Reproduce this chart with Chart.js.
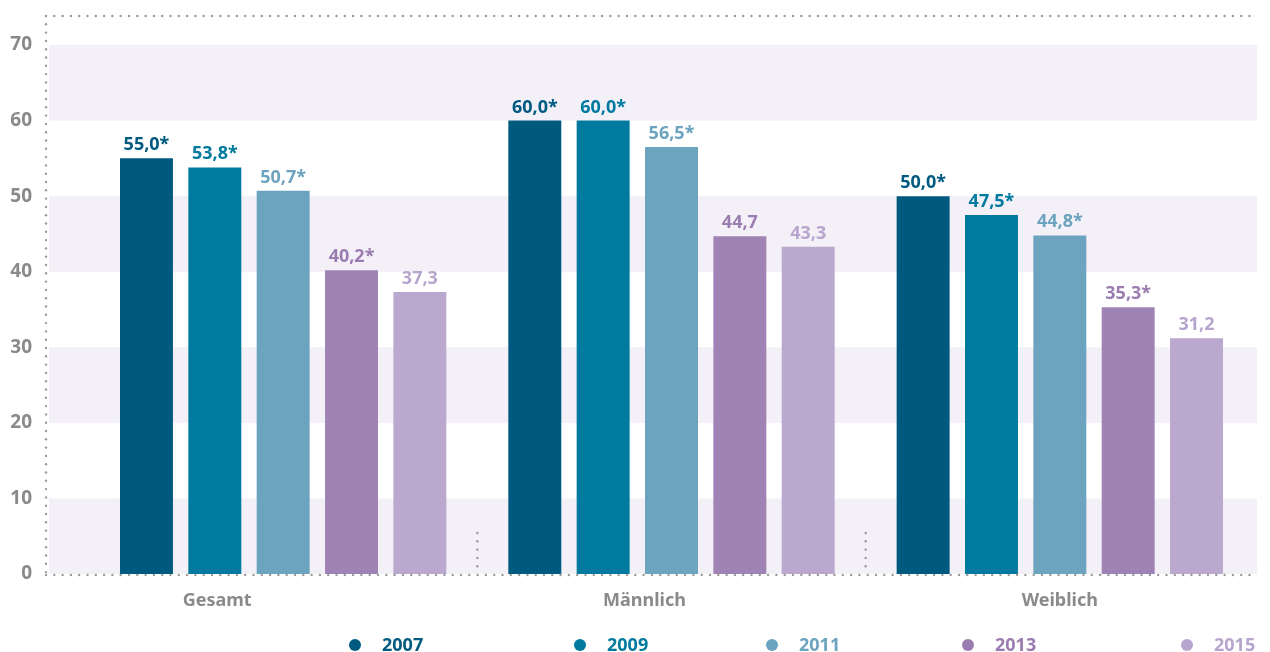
<!DOCTYPE html>
<html>
<head>
<meta charset="utf-8">
<script src="https://cdn.jsdelivr.net/npm/chart.js@4.4.1/dist/chart.umd.min.js"></script>
<style>
html,body{margin:0;padding:0;background:#fff;}
#wrap{width:1270px;height:652px;position:relative;}
</style>
</head>
<body>
<div id="wrap"><canvas id="c" width="1270" height="652"></canvas></div>
<script>
const categories = ['Gesamt', 'Männlich', 'Weiblich'];
const years = ['2007', '2009', '2011', '2013', '2015'];
const values2007 = [55.0, 60.0, 50.0];
const values2009 = [53.8, 60.0, 47.5];
const values2011 = [50.7, 56.5, 44.8];
const values2013 = [40.2, 44.7, 35.3];
const values2015 = [37.3, 43.3, 31.2];
const stars2007 = [true, true, true];
const stars2009 = [true, true, true];
const stars2011 = [true, true, true];
const stars2013 = [true, false, true];
const stars2015 = [false, false, false];
const yTicks = [0, 10, 20, 30, 40, 50, 60, 70];

const barColors = ['#005a80', '#007a9e', '#6ca3be', '#a083b5', '#bba8ce'];
const labelColors = ['#005a80', '#007a9e', '#6ca3be', '#9a7cb0', '#b8a5cd'];
const allValues = [values2007, values2009, values2011, values2013, values2015];
const allStars = [stars2007, stars2009, stars2011, stars2013, stars2015];

const FONT = '"Noto Sans", "Open Sans", sans-serif';
const GRAY = '#8a8a8a';
const AXIS_LEFT = 46;
const CAT_LABEL_SHIFT = [-66, -27, 0];

function dotsH(ctx, x0, x1, y, step) {
  for (let x = x0; x <= x1; x += step) {
    ctx.beginPath(); ctx.arc(x, y, 1.2, 0, Math.PI * 2); ctx.fill();
  }
}
function dotsV(ctx, x, y0, y1, step) {
  for (let y = y0; y <= y1; y += step) {
    ctx.beginPath(); ctx.arc(x, y, 1.2, 0, Math.PI * 2); ctx.fill();
  }
}

const backdrop = {
  id: 'backdrop',
  beforeDatasetsDraw(chart) {
    const ctx = chart.ctx, y = chart.scales.y, x = chart.scales.x;
    const right = chart.chartArea.right + 3;
    ctx.save();
    ctx.fillStyle = '#f3f0f7';
    for (let i = 0; i < yTicks.length - 1; i += 2) {
      const top = y.getPixelForValue(yTicks[i + 1]);
      const bot = y.getPixelForValue(yTicks[i]);
      ctx.fillRect(AXIS_LEFT + 3, top, right - AXIS_LEFT - 3, bot - top);
    }
    ctx.fillStyle = '#9a9a9a';
    const top = 16, bottom = y.getPixelForValue(0) + 1;
    dotsH(ctx, AXIS_LEFT, right - 2, top, 8.3);
    dotsV(ctx, AXIS_LEFT, top, bottom, 8.3);
    for (let i = 0; i < categories.length - 1; i++) {
      const sx = (x.getPixelForValue(i) + x.getPixelForValue(i + 1)) / 2;
      dotsV(ctx, sx, bottom - 42, bottom - 8, 8.3);
    }
    ctx.restore();
  },
  afterDatasetsDraw(chart) {
    const ctx = chart.ctx, y = chart.scales.y, x = chart.scales.x;
    const right = chart.chartArea.right + 3;
    ctx.save();
    ctx.fillStyle = '#9a9a9a';
    dotsH(ctx, AXIS_LEFT, right - 2, y.getPixelForValue(0) + 1, 8.3);
    // category labels
    ctx.font = 'bold 18px ' + FONT;
    ctx.fillStyle = GRAY;
    ctx.textAlign = 'center';
    ctx.textBaseline = 'middle';
    categories.forEach((c, i) => {
      ctx.fillText(c, x.getPixelForValue(i) + CAT_LABEL_SHIFT[i], y.getPixelForValue(0) + 27);
    });
    // value labels
    ctx.textBaseline = 'alphabetic';
    chart.data.datasets.forEach((ds, di) => {
      const meta = chart.getDatasetMeta(di);
      meta.data.forEach((bar, i) => {
        const v = ds.data[i];
        const txt = v.toFixed(1).replace('.', ',') + (allStars[di][i] ? '*' : '');
        ctx.fillStyle = labelColors[di];
        ctx.fillText(txt, bar.x, bar.y - 8);
      });
    });
    // legend
    const legendX = [355, 580, 772, 968, 1187];
    const ly = 645;
    ctx.textAlign = 'left';
    ctx.textBaseline = 'middle';
    chart.data.datasets.forEach((ds, di) => {
      ctx.fillStyle = labelColors[di];
      ctx.beginPath(); ctx.arc(legendX[di], ly, 6, 0, Math.PI * 2); ctx.fill();
      ctx.fillText(ds.label, legendX[di] + 27, ly + 1);
    });
    ctx.restore();
  }
};

new Chart(document.getElementById('c'), {
  type: 'bar',
  data: {
    labels: categories,
    datasets: years.map((yr, i) => ({
      label: yr,
      data: allValues[i],
      backgroundColor: barColors[i],
      borderWidth: 0,
      categoryPercentage: 0.88,
      barPercentage: 0.775
    }))
  },
  options: {
    responsive: false,
    animation: false,
    layout: { padding: { top: 45, right: 16, bottom: 41, left: 0 } },
    plugins: { legend: { display: false }, tooltip: { enabled: false } },
    scales: {
      x: {
        grid: { display: false, drawTicks: false },
        border: { display: false },
        ticks: { display: false },
        afterFit(s) { s.height = 37; s.paddingLeft = 0; s.paddingRight = 0; }
      },
      y: {
        min: 0, max: 70,
        afterBuildTicks(s) { s.ticks = yTicks.map(v => ({ value: v })); },
        grid: { display: false, drawTicks: false },
        border: { display: false },
        ticks: { color: GRAY, font: { family: FONT, size: 19, weight: 'bold' }, padding: 57 },
        afterFit(s) { s.width = 89; s.paddingTop = 0; s.paddingBottom = 0; }
      }
    }
  },
  plugins: [backdrop]
});
</script>
</body>
</html>
